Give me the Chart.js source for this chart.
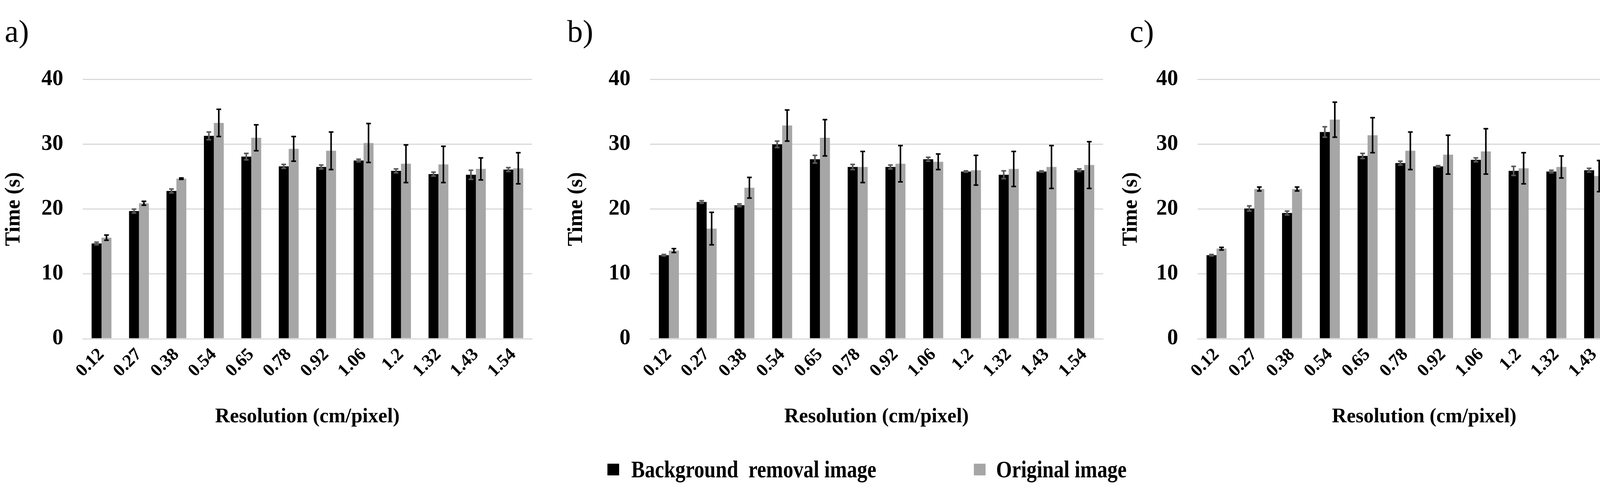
<!DOCTYPE html>
<html><head><meta charset="utf-8">
<script src="https://cdn.jsdelivr.net/npm/chart.js@4/dist/chart.umd.min.js"></script>
<style>
html,body{margin:0;width:4257px;height:1258px;background:#fff;overflow:hidden;font-family:"Liberation Serif",serif}
body{position:relative}
canvas{position:absolute}
.lbl{position:absolute;font-size:80px;color:#000;line-height:1}
.leg{position:absolute;top:1168px;font-weight:bold;font-size:62px;line-height:68px;white-space:nowrap}
.sq{position:absolute;top:1188px;width:30px;height:30px}
.t{display:inline-block;transform:scaleX(0.84);transform-origin:left center}
</style></head><body>
<div class="lbl" style="left:12px;top:40px">a)</div>
<div class="lbl" style="left:1452px;top:40px">b)</div>
<div class="lbl" style="left:2892px;top:40px">c)</div>
<canvas id="c0"></canvas><canvas id="c1"></canvas><canvas id="c2"></canvas>
<div class="sq" style="left:1555px;background:#000"></div>
<div class="leg" style="left:1616px"><span class="t">Background&nbsp; removal image</span></div>
<div class="sq" style="left:2493px;background:#a6a6a6"></div>
<div class="leg" style="left:2550px"><span class="t">Original image</span></div>
<script>
const categories=["0.12","0.27","0.38","0.54","0.65","0.78","0.92","1.06","1.2","1.32","1.43","1.54"];
const yTicks=[0,10,20,30,40];
const bgA=[14.7,19.7,22.8,31.3,28.1,26.6,26.5,27.5,25.9,25.4,25.3,26.1];
const bgAErr=[0.2,0.3,0.3,0.6,0.5,0.3,0.3,0.2,0.3,0.3,0.7,0.3];
const orA=[15.6,20.9,24.7,33.3,31.0,29.3,29.0,30.2,27.0,26.9,26.2,26.3];
const orAErr=[0.4,0.3,0.1,2.1,2.0,1.9,2.9,3.0,2.9,2.8,1.7,2.4];
const bgB=[12.9,21.1,20.6,30.0,27.7,26.5,26.5,27.7,25.8,25.3,25.8,26.0];
const bgBErr=[0.1,0.2,0.2,0.5,0.6,0.4,0.3,0.3,0.1,0.6,0.1,0.2];
const orB=[13.6,17.0,23.3,32.9,31.0,26.5,27.0,27.3,26.0,26.2,26.5,26.8];
const orBErr=[0.3,2.5,1.6,2.4,2.8,2.4,2.8,1.2,2.3,2.7,3.3,3.6];
const bgC=[12.9,20.1,19.4,31.9,28.2,27.1,26.6,27.6,25.9,25.8,26.0,26.3];
const bgCErr=[0.1,0.4,0.3,0.8,0.4,0.3,0.1,0.3,0.7,0.2,0.3,0.3];
const orC=[13.9,23.1,23.1,33.8,31.4,29.0,28.4,28.9,26.3,26.5,25.1,26.0];
const orCErr=[0.2,0.3,0.3,2.7,2.7,2.9,3.0,3.5,2.4,1.7,2.4,2.6];

const errPlugin={id:'err',afterDatasetsDraw(chart){
  const ctx=chart.ctx,y=chart.scales.y;
  chart.data.datasets.forEach((ds,i)=>{
    const meta=chart.getDatasetMeta(i);
    ctx.save();ctx.strokeStyle=ds.errColor;ctx.lineWidth=4;
    meta.data.forEach((bar,j)=>{
      const v=ds.data[j],e=ds.err[j];
      const t=y.getPixelForValue(v+e),b=y.getPixelForValue(v-e),x=bar.x;
      ctx.beginPath();ctx.moveTo(x,t);ctx.lineTo(x,b);
      ctx.moveTo(x-6,t);ctx.lineTo(x+6,t);ctx.moveTo(x-6,b);ctx.lineTo(x+6,b);ctx.stroke();
    });
    ctx.restore();
  });
}};
const panels=[
 {id:'c0',left:0,plotL:212,plotR:1362,bg:bgA,bgE:bgAErr,or:orA,orE:orAErr},
 {id:'c1',left:1440,plotL:1664,plotR:2824,bg:bgB,bgE:bgBErr,or:orB,orE:orBErr},
 {id:'c2',left:2860,plotL:3066,plotR:4226,bg:bgC,bgE:bgCErr,or:orC,orE:orCErr}
];
const TOP=120,H=980,PLOT_TOP=190,PLOT_BOT=866,LABEL_PAD=28;
const font={family:'"Liberation Serif", serif',weight:'bold'};
panels.forEach(p=>{
  const cv=document.getElementById(p.id);
  const w=Math.min(p.plotR-p.left+30,4257-p.left);
  const padR=w-(p.plotR-p.left);
  cv.style.left=p.left+'px';cv.style.top=TOP+'px';
  cv.style.width=w+'px';cv.style.height=H+'px';cv.width=w;cv.height=H;
  new Chart(cv,{type:'bar',
   data:{labels:categories,datasets:[
    {label:'Background removal image',data:p.bg,err:p.bgE,errColor:'#5a5a5a',backgroundColor:'#000',barPercentage:1,categoryPercentage:0.53},
    {label:'Original image',data:p.or,err:p.orE,errColor:'#000',backgroundColor:'#a6a6a6',barPercentage:1,categoryPercentage:0.53}]},
   options:{responsive:false,animation:false,devicePixelRatio:1,
    layout:{padding:{top:PLOT_TOP-TOP-LABEL_PAD,right:padR,left:0,bottom:0}},
    plugins:{legend:{display:false},tooltip:{enabled:false}},
    scales:{
     x:{grid:{display:false},border:{color:'#d9d9d9',width:3},
        ticks:{color:'#000',font:{...font,size:46},maxRotation:45,minRotation:45,padding:6},
        title:{display:true,text:'Resolution (cm/pixel)',color:'#000',font:{...font,size:52},padding:{top:4,bottom:0}},
        afterFit(s){s.height=1098-PLOT_BOT;}},
     y:{min:0,max:40,afterBuildTicks(s){s.ticks=yTicks.map(v=>({value:v}));},
        grid:{color:'#d9d9d9',lineWidth:3,drawTicks:false},border:{display:false},
        ticks:{color:'#000',font:{...font,size:56},padding:50},
        title:{display:true,text:'Time (s)',color:'#000',font:{...font,size:54},padding:{bottom:6}},
        afterFit(s){s.width=p.plotL-p.left;}}
    }},
   plugins:[errPlugin]});
});
</script></body></html>
